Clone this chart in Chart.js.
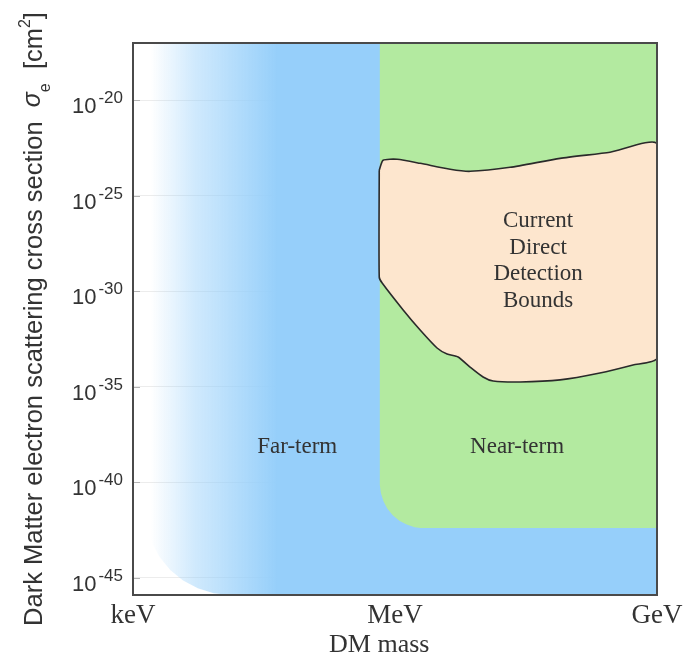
<!DOCTYPE html>
<html>
<head>
<meta charset="utf-8">
<script src="https://cdn.jsdelivr.net/npm/chart.js@4/dist/chart.umd.min.js"></script>
<style>
  html, body { margin: 0; padding: 0; background: #ffffff; }
  #wrap { width: 690px; height: 656px; }
</style>
</head>
<body>
<div id="wrap"><canvas id="chart" width="690" height="656"></canvas></div>
<script>
// Axis ranges: DM mass in eV, cross section in cm^2
const massRange = [1e3, 1e9];
const sigmaRange = [1.25e-46, 1e-17];
const massTickValues = [1e3, 1e6, 1e9];
const massTickLabels = ['keV', 'MeV', 'GeV'];
const sigmaTickExponents = [-20, -25, -30, -35, -40, -45];

// Far-term reach (blue), with its rounded low-mass / low-sigma corner
const farMass  = [1.38e3, 1.38e3, 1.443e3, 1.64e3, 2.014e3, 2.67e3, 3.741e3, 5.52e3, 8.395e3, 1.30e4, 1e9, 1e9, 1.38e3];
const farSigma = [1e-17, 3.55e-42, 4.9e-43, 7.08e-44, 1.23e-44, 2.57e-45, 7.24e-46, 2.82e-46, 1.55e-46, 1.25e-46, 1.25e-46, 1e-17, 1e-17];
// colour fade of the far-term band (mass where it starts and where it is full)
const farFadeMass = [1.6e3, 4.5e4];

// Near-term reach (green)
const nearMass  = [6.7e5, 6.7e5, 6.9e5, 7.38e5, 8.18e5, 9.42e5, 1.12e6, 1.36e6, 1.68e6, 1.96e6, 1e9, 1e9, 6.7e5];
const nearSigma = [1e-17, 7.2e-41, 2.63e-41, 1.0e-41, 4.07e-42, 1.86e-42, 9.77e-43, 6.17e-43, 4.47e-43, 4.07e-43, 4.07e-43, 1e-17, 1e-17];

// Current direct detection bounds (excluded region)
const boundMass = [
  6.6e5, 7.31e5, 1.06e6, 1.94e6, 4.28e6, 7.24e6, 2.08e7, 7.76e7, 2.90e8, 1e9,
  1e9, 5.31e8, 2.22e8, 7.76e7, 2.70e7, 1.33e7, 1.02e7, 7.24e6, 5.28e6, 3.95e6,
  3.03e6, 1.94e6, 1.24e6, 7.13e5, 6.6e5, 6.6e5
];
const boundSigma = [
  2.19e-24, 7.24e-24, 8.13e-24, 5.01e-24, 2.45e-24, 1.91e-24, 3.09e-24, 9.12e-24, 1.91e-23, 5.01e-23,
  3.16e-34, 1.38e-34, 5.25e-35, 2.29e-35, 1.78e-35, 2.0e-35, 3.24e-35, 1.07e-34, 3.63e-34, 5.13e-34,
  1.07e-33, 9.33e-33, 1.05e-31, 2.69e-30, 5.5e-30, 2.19e-24
];

// Region labels: [text lines, mass, sigma]
const regionLabels = [
  { lines: ['Far-term'], mass: 7.6e4, sigma: 8.9e-39 },
  { lines: ['Near-term'], mass: 2.5e7, sigma: 8.9e-39 },
  { lines: ['Current', 'Direct', 'Detection', 'Bounds'], mass: 4.35e7, sigma: 4.8e-29 }
];

const COLORS = {
  far: '#96cffa',
  near: '#b3eaa0',
  bound: '#fde6ce',
  outline: '#2a2a2a',
  frame: '#4a4a4a',
  text: '#333333'
};

const toPoints = (xs, ys) => xs.map((v, i) => ({ x: v, y: ys[i] }));

function farFill(context) {
  const chart = context.chart;
  const area = chart.chartArea;
  if (!area) return COLORS.far;
  const xs = chart.scales.x;
  const x0 = xs.getPixelForValue(farFadeMass[0]);
  const x1 = xs.getPixelForValue(farFadeMass[1]);
  const g = chart.ctx.createLinearGradient(x0, 0, x1, 0);
  g.addColorStop(0, 'rgba(150,207,250,0)');
  g.addColorStop(0.35, 'rgba(150,207,250,0.45)');
  g.addColorStop(1, 'rgba(150,207,250,1)');
  return g;
}

const SANS = '"Liberation Sans", Arial, Helvetica, sans-serif';
const SERIF = '"Liberation Serif", "Times New Roman", serif';

const decorations = {
  id: 'decorations',
  afterDatasetsDraw(chart) {
    const { ctx, chartArea: a, scales: { x, y } } = chart;
    ctx.save();

    // short tick marks on the cross-section axis
    ctx.strokeStyle = '#b5b5b5';
    ctx.lineWidth = 1;
    sigmaTickExponents.forEach(e => {
      const py = Math.round(y.getPixelForValue(Math.pow(10, e))) + 0.5;
      ctx.beginPath();
      ctx.moveTo(a.left, py);
      ctx.lineTo(a.left + 7, py);
      ctx.stroke();
    });

    // plot frame
    ctx.strokeStyle = COLORS.frame;
    ctx.lineWidth = 2;
    ctx.strokeRect(a.left, a.top, a.right - a.left, a.bottom - a.top);

    // y tick labels 10^e
    ctx.fillStyle = COLORS.text;
    ctx.textBaseline = 'alphabetic';
    ctx.textAlign = 'left';
    sigmaTickExponents.forEach(e => {
      const py = y.getPixelForValue(Math.pow(10, e));
      const sup = String(e);
      ctx.font = '17px ' + SANS;
      const ws = ctx.measureText(sup).width;
      ctx.font = '22px ' + SANS;
      const wb = ctx.measureText('10').width;
      const right = a.left - 10;
      ctx.fillText('10', right - ws - wb - 2, py + 13);
      ctx.font = '17px ' + SANS;
      ctx.fillText(sup, right - ws, py + 3);
    });

    // x tick labels
    ctx.font = '27px ' + SERIF;
    ctx.textAlign = 'center';
    massTickValues.forEach((v, i) => {
      ctx.fillText(massTickLabels[i], x.getPixelForValue(v), a.bottom + 28);
    });

    // x axis title
    ctx.font = '26px ' + SERIF;
    ctx.fillText('DM mass', a.left + 0.47 * (a.right - a.left), a.bottom + 57);

    // region labels
    ctx.font = '23px ' + SERIF;
    regionLabels.forEach(lb => {
      const cx = x.getPixelForValue(lb.mass);
      const cy = y.getPixelForValue(lb.sigma);
      const lh = 26.5;
      const n = lb.lines.length;
      lb.lines.forEach((t, i) => {
        ctx.fillText(t, cx, cy + (i - (n - 1) / 2) * lh + 8);
      });
    });

    // y axis title (rotated), with sigma_e and cm^2
    const parts = [
      { t: 'Dark Matter electron scattering cross section', f: '25.5px ' + SANS, dy: 0 },
      { t: '  ', f: '25.5px ' + SANS, dy: 0 },
      { t: '\u03C3', f: 'italic 25px ' + SANS, dy: -2 },
      { t: 'e', f: '16px ' + SANS, dy: 8 },
      { t: '  [cm', f: '25.5px ' + SANS, dy: 0 },
      { t: '2', f: '16px ' + SANS, dy: -12 },
      { t: ']', f: '25.5px ' + SANS, dy: 0 }
    ];
    let total = 0;
    parts.forEach(p => { ctx.font = p.f; p.w = ctx.measureText(p.t).width; total += p.w; });
    ctx.translate(42, (a.top + a.bottom) / 2);
    ctx.rotate(-Math.PI / 2);
    ctx.textAlign = 'left';
    let pos = -total / 2;
    parts.forEach(p => {
      ctx.font = p.f;
      ctx.fillText(p.t, pos, p.dy);
      pos += p.w;
    });

    ctx.restore();
  }
};

new Chart(document.getElementById('chart'), {
  type: 'scatter',
  data: {
    datasets: [
      {
        label: 'Current Direct Detection Bounds',
        data: toPoints(boundMass, boundSigma),
        showLine: true,
        fill: 'shape',
        backgroundColor: COLORS.bound,
        borderColor: COLORS.outline,
        borderWidth: 1.6,
        tension: 0.2,
        pointRadius: 0,
        order: 0
      },
      {
        label: 'Near-term',
        data: toPoints(nearMass, nearSigma),
        showLine: true,
        fill: 'shape',
        backgroundColor: COLORS.near,
        borderWidth: 0,
        borderColor: 'rgba(0,0,0,0)',
        tension: 0,
        pointRadius: 0,
        order: 1
      },
      {
        label: 'Far-term',
        data: toPoints(farMass, farSigma),
        showLine: true,
        fill: 'shape',
        backgroundColor: farFill,
        borderWidth: 0,
        borderColor: 'rgba(0,0,0,0)',
        tension: 0,
        pointRadius: 0,
        order: 2
      }
    ]
  },
  options: {
    responsive: false,
    animation: false,
    devicePixelRatio: 1,
    layout: { padding: { left: 133, right: 33, top: 43, bottom: 61 } },
    plugins: {
      legend: { display: false },
      tooltip: { enabled: false },
      filler: { drawTime: 'beforeDatasetDraw' }
    },
    scales: {
      x: {
        type: 'logarithmic',
        min: massRange[0],
        max: massRange[1],
        afterBuildTicks: axis => { axis.ticks = massTickValues.map(v => ({ value: v })); },
        ticks: { display: false },
        grid: { display: false, drawTicks: false },
        border: { display: false }
      },
      y: {
        type: 'logarithmic',
        min: sigmaRange[0],
        max: sigmaRange[1],
        afterBuildTicks: axis => { axis.ticks = sigmaTickExponents.map(e => ({ value: Math.pow(10, e) })); },
        ticks: { display: false },
        grid: { color: '#ececec', lineWidth: 1, drawTicks: false },
        border: { display: false }
      }
    }
  },
  plugins: [decorations]
});
</script>
</body>
</html>
